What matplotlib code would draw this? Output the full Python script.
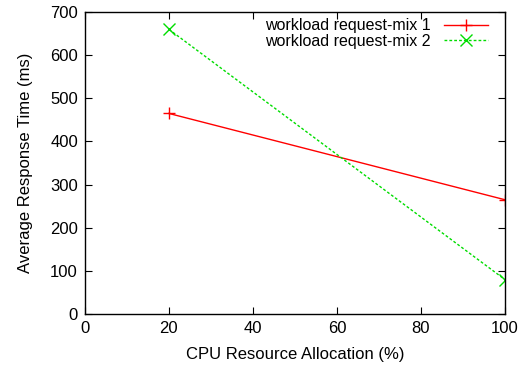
import numpy as np
import matplotlib.pyplot as plt

plt.rcParams['font.family'] = ['Liberation Sans', 'DejaVu Sans']

cpu = [20, 100]
mix1 = [465, 265]
mix2 = [660, 80]
labels = ['workload request-mix 1', 'workload request-mix 2']

fig = plt.figure(figsize=(5.21, 3.66), dpi=100)
ax = fig.add_axes([0.163, 0.142, 0.806, 0.825])

ax.plot(cpu, mix1, color='#ff0000', linewidth=1.0, marker='+', markersize=9,
        markeredgewidth=1.0, label=labels[0])
ax.plot(cpu, mix2, color='#00dd00', linewidth=1.0, linestyle=(0, (2, 1.5)),
        marker='x', markersize=8, markeredgewidth=1.0, label=labels[1])

ax.set_xlim(0, 100)
ax.set_ylim(0, 700)
ax.set_xticks(np.arange(0, 101, 20))
ax.set_yticks(np.arange(0, 701, 100))
ax.tick_params(direction='in', top=True, right=True, length=5, labelsize=12, pad=5)
ax.set_xlabel('CPU Resource Allocation (%)', fontsize=12, labelpad=8)
ax.set_ylabel('Average Response Time (ms)', fontsize=12, labelpad=12)
for s in ax.spines.values():
    s.set_linewidth(1.0)

ax.legend(loc='upper right', frameon=False, markerfirst=False, fontsize=11.5,
          handlelength=2.75, borderaxespad=0.0, borderpad=0.1, labelspacing=0.05,
          handletextpad=0.8, bbox_to_anchor=(0.963, 0.985))

fig.savefig('out.png', dpi=100)
